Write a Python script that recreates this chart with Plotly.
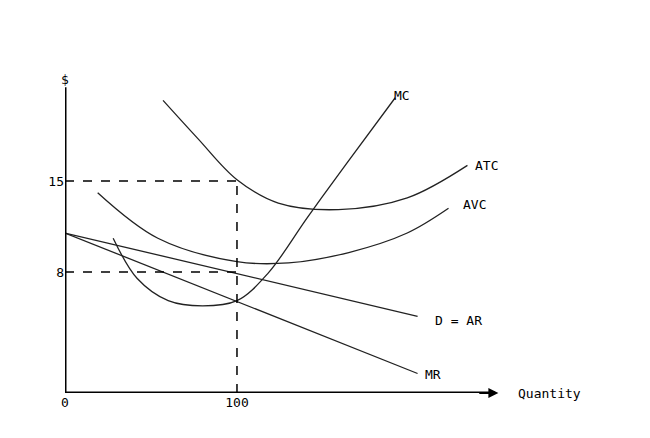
import plotly.graph_objects as go

# curve points (quantity, $)
mc_q = [28, 42, 60, 80, 100, 118, 141, 164, 192]
mc_p = [10.6, 7.5, 5.8, 5.4, 5.8, 7.9, 12.2, 16.4, 21.4]
atc_q = [57, 77, 100, 124, 159, 199, 234]
atc_p = [21.2, 18.3, 15.1, 13.3, 12.8, 13.7, 16.2]
avc_q = [19, 54, 100, 130, 165, 199, 223]
avc_p = [14.1, 10.6, 8.8, 8.7, 9.5, 11.0, 12.9]
d_q = [0, 205]
d_p = [11.0, 4.6]
mr_q = [0, 205]
mr_p = [11.0, 0.2]
q_star = 100
atc_star = 15
p_star = 8

fnt = dict(family="DejaVu Sans Mono", size=13, color="black")
line = dict(color="#222", width=1.3)

fig = go.Figure()
for q, p in [(mc_q, mc_p), (atc_q, atc_p), (avc_q, avc_p)]:
    fig.add_trace(go.Scatter(x=q, y=p, mode="lines", line=dict(shape="spline", **line)))
for q, p in [(d_q, d_p), (mr_q, mr_p)]:
    fig.add_trace(go.Scatter(x=q, y=p, mode="lines", line=line))

dash = dict(color="black", width=1.5, dash="dash")
fig.add_trace(go.Scatter(x=[0, q_star], y=[atc_star, atc_star], mode="lines", line=dash))
fig.add_trace(go.Scatter(x=[0, q_star], y=[p_star, p_star], mode="lines", line=dash))
fig.add_trace(go.Scatter(x=[q_star, q_star], y=[-1.3, atc_star], mode="lines", line=dash))

# axes
fig.add_shape(type="line", x0=0, x1=0, y0=-1.3, y1=22.2, line=dict(color="black", width=3))
fig.add_shape(type="line", x0=0, x1=250, y0=-1.3, y1=-1.3, line=dict(color="black", width=3))
fig.add_annotation(x=252, y=-1.3, ax=240, ay=-1.3, axref="x", ayref="y", arrowcolor="black",
                   showarrow=True, arrowhead=2, arrowsize=1, arrowwidth=2, text="")

labels = [("MC", 196, 21.6), ("ATC", 245, 16.2), ("AVC", 238, 13.2),
          ("D = AR", 229, 4.3), ("MR", 214, 0.1), ("Quantity", 282, -1.3), ("$", 0, 22.8)]
for t, x, y in labels:
    fig.add_annotation(x=x, y=y, text=t, showarrow=False, font=fnt, xanchor="center")

fig.add_annotation(x=20, y=32, xref="paper", yref="paper", yanchor="middle",
                   text="<b>Exhibit 10-9</b>", showarrow=False, xanchor="left",
                   font=dict(family="Liberation Serif", size=17, color="black"))
fig.layout.annotations[-1].update(xref="x", yref="y", x=-21.5, y=26.3)

fig.update_layout(
    width=650, height=438, showlegend=False,
    plot_bgcolor="white", paper_bgcolor="white",
    margin=dict(l=57, r=0, t=0, b=53, autoexpand=False),
    xaxis=dict(range=[0, 344.8], tickvals=[0, 100], showgrid=False, zeroline=False,
               ticks="", tickfont=fnt, fixedrange=True, automargin=False),
    yaxis=dict(range=[-1.3, 28.3], tickvals=[8, 15], showgrid=False, zeroline=False,
               ticks="", tickfont=fnt, fixedrange=True, automargin=False),
)
fig.write_html("out.html")
